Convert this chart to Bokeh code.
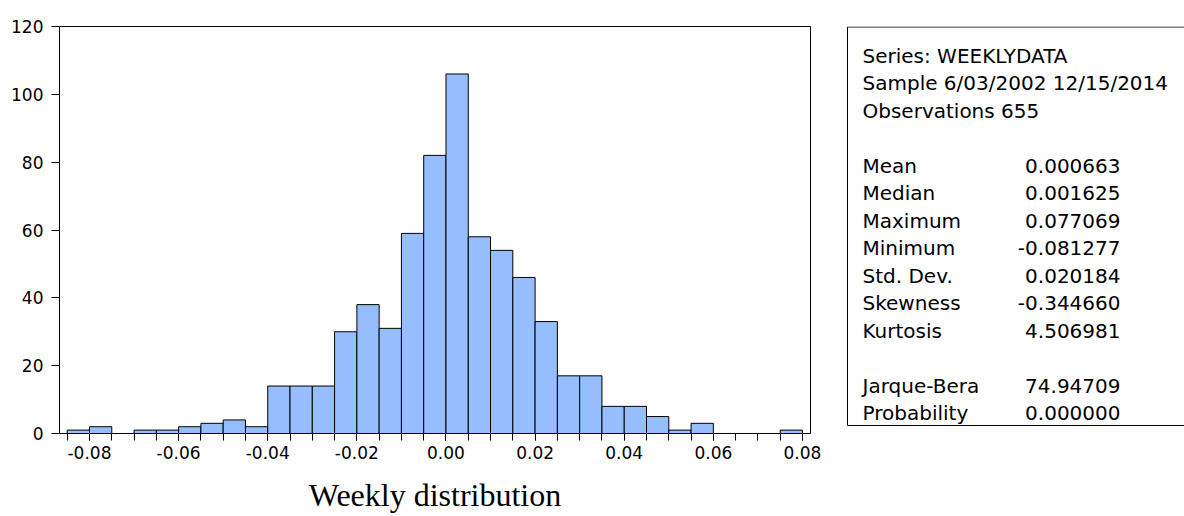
import numpy as np
from bokeh.plotting import figure
from bokeh.layouts import row
from bokeh.models import Range1d, FixedTicker, ColumnDataSource
from bokeh.core.properties import value
from bokeh.embed import file_html
from bokeh.resources import INLINE

# ---------------- data ----------------
bin_start = -0.085
bin_width = 0.005
counts = [1, 2, 0, 1, 1, 2, 3, 4, 2, 14, 14, 14, 30, 38, 31, 59, 82, 106,
          58, 54, 46, 33, 17, 17, 8, 8, 5, 1, 3, 0, 0, 0, 1]
x_tick_values = [-0.08, -0.06, -0.04, -0.02, 0.0, 0.02, 0.04, 0.06, 0.08]
x_tick_labels = ["-0.08", "-0.06", "-0.04", "-0.02", "0.00", "0.02", "0.04", "0.06", "0.08"]
y_tick_values = [0, 20, 40, 60, 80, 100, 120]
x_label = "Weekly distribution"

header_lines = ["Series: WEEKLYDATA", "Sample 6/03/2002 12/15/2014", "Observations 655"]
stat_names = ["Mean", "Median", "Maximum", "Minimum", "Std. Dev.", "Skewness", "Kurtosis"]
stat_values = ["0.000663", "0.001625", "0.077069", "-0.081277", "0.020184", "-0.344660", "4.506981"]
test_names = ["Jarque-Bera", "Probability"]
test_values = ["74.94709", "0.000000"]

# ---------------- histogram ----------------
n = len(counts)
lefts = np.round(bin_start + bin_width * np.arange(n), 4)
rights = np.round(lefts + bin_width, 4)
src = ColumnDataSource(dict(left=lefts, right=rights, top=counts, bottom=[0] * n))

p = figure(width=840, height=516, output_backend="svg", toolbar_location=None,
           x_range=Range1d(-0.08673, 0.0818), y_range=Range1d(0, 120),
           min_border_left=59, min_border_right=30, min_border_top=26, min_border_bottom=83)
p.quad(left="left", right="right", top="top", bottom="bottom", source=src,
       fill_color="#96BEFF", line_color="black", line_width=1)

p.grid.visible = False
p.outline_line_color = "black"
p.outline_line_width = 1
p.background_fill_color = "white"
p.border_fill_color = "white"

xt = FixedTicker(ticks=x_tick_values, minor_ticks=list(np.round(np.append(lefts, rights[-1]), 4)))
p.xaxis.ticker = xt
p.xaxis.major_label_overrides = {v: l for v, l in zip(x_tick_values, x_tick_labels)}
p.xaxis.major_tick_out = 7
p.xaxis.major_tick_in = 0
p.xaxis.minor_tick_out = 7
p.xaxis.minor_tick_in = 0
p.xaxis.major_label_standoff = 5
p.xaxis.axis_label = x_label
p.xaxis.axis_label_text_font = "Liberation Serif"
p.xaxis.axis_label_text_font_size = "32px"
p.xaxis.axis_label_text_font_style = "normal"
p.xaxis.axis_label_text_color = "black"
p.xaxis.axis_label_standoff = 15

p.yaxis.ticker = FixedTicker(ticks=y_tick_values, minor_ticks=[])
p.yaxis.major_tick_out = 8
p.yaxis.major_tick_in = 0
p.yaxis.major_label_standoff = 8

for ax in (p.xaxis, p.yaxis):
    ax.axis_line_color = "black"
    ax.major_tick_line_color = "black"
    ax.minor_tick_line_color = "black"
    ax.major_label_text_font = "DejaVu Sans"
    ax.major_label_text_font_size = "17px"
    ax.major_label_text_color = "black"

# ---------------- statistics box ----------------
# the row layout aligns this frame with the histogram frame (y 26..433 on the page)
q = figure(width=344, height=516, output_backend="svg", toolbar_location=None,
           x_range=Range1d(0, 344), y_range=Range1d(433, 26),
           min_border=0, min_border_left=0, min_border_right=0,
           min_border_top=26, min_border_bottom=83)
q.axis.visible = False
q.grid.visible = False
q.outline_line_color = None
q.border_fill_color = "white"
q.quad(left=[7], right=[370], top=[26.5], bottom=[425], fill_color="white",
       line_color="black", line_width=1)

line_h = 27.5
base0 = 55
left_txt, left_y, right_txt, right_y = [], [], [], []
rowi = 0
for t in header_lines:
    left_txt.append(t); left_y.append(base0 + rowi * line_h); rowi += 1
rowi += 1
for nm, v in zip(stat_names, stat_values):
    left_txt.append(nm); left_y.append(base0 + rowi * line_h)
    right_txt.append(v); right_y.append(base0 + rowi * line_h); rowi += 1
rowi += 1
for nm, v in zip(test_names, test_values):
    left_txt.append(nm); left_y.append(base0 + rowi * line_h)
    right_txt.append(v); right_y.append(base0 + rowi * line_h); rowi += 1

q.text(x=[22] * len(left_txt), y=left_y, text=left_txt, text_font=value("DejaVu Sans"),
       text_font_size="20px", text_baseline="alphabetic", text_align="left", text_color="black")
q.text(x=[280] * len(right_txt), y=right_y, text=right_txt, text_font=value("DejaVu Sans"),
       text_font_size="20px", text_baseline="alphabetic", text_align="right", text_color="black")

layout = row(p, q)
open("out.html", "w").write(file_html(layout, INLINE))
